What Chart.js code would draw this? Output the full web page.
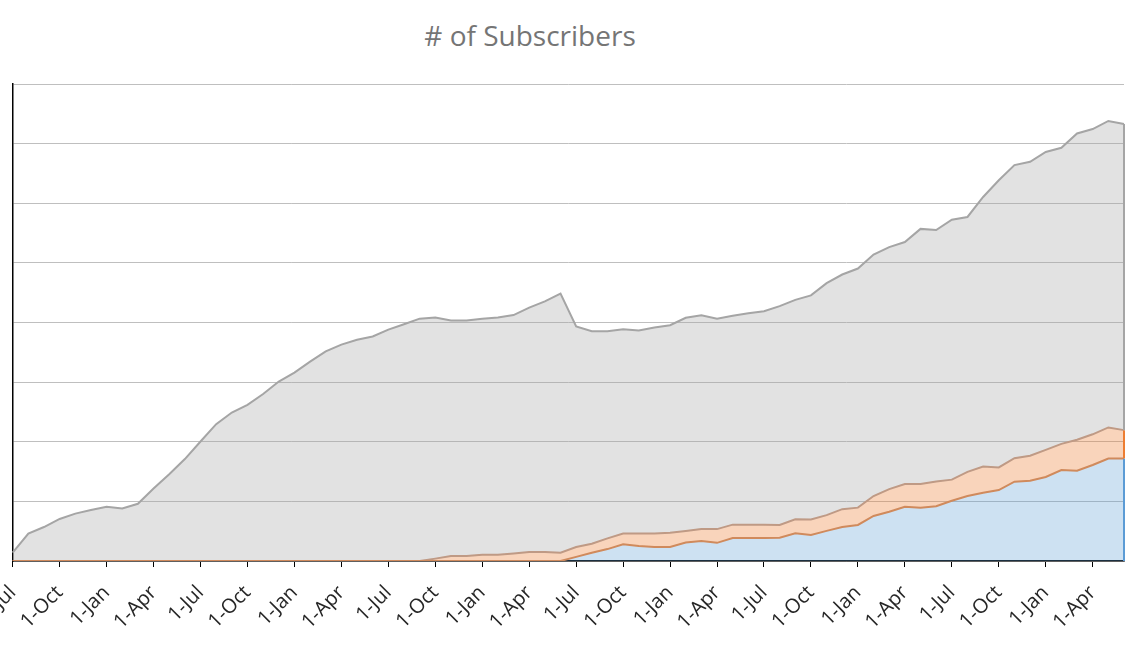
<!DOCTYPE html>
<html>
<head>
<meta charset="utf-8">
<script src="https://cdn.jsdelivr.net/npm/chart.js@4.4.1/dist/chart.umd.min.js"></script>
<style>
  html, body { margin: 0; padding: 0; background: #fff; overflow: hidden; }
  body { width: 1139px; height: 645px; position: relative; }
  #title {
    position: absolute; top: 21px; left: 0; width: 1060px;
    text-align: center; font-family: "Open Sans"; font-size: 28px;
    line-height: 28px; color: #757575;
  }
  /* canvas pushed left so the first rotated label is cut off like in Excel */
  #wrap { position: absolute; left: -30px; top: 0; width: 1169px; height: 648px; }
</style>
</head>
<body>
<div id="title"># of Subscribers</div>
<div id="wrap"><canvas id="subsChart"></canvas></div>
<script>
// monthly categories (6 years, Jul to Jun)
const months = [
  "1-Jul","1-Aug","1-Sep","1-Oct","1-Nov","1-Dec","1-Jan","1-Feb","1-Mar","1-Apr","1-May","1-Jun",
  "1-Jul","1-Aug","1-Sep","1-Oct","1-Nov","1-Dec","1-Jan","1-Feb","1-Mar","1-Apr","1-May","1-Jun",
  "1-Jul","1-Aug","1-Sep","1-Oct","1-Nov","1-Dec","1-Jan","1-Feb","1-Mar","1-Apr","1-May","1-Jun",
  "1-Jul","1-Aug","1-Sep","1-Oct","1-Nov","1-Dec","1-Jan","1-Feb","1-Mar","1-Apr","1-May","1-Jun",
  "1-Jul","1-Aug","1-Sep","1-Oct","1-Nov","1-Dec","1-Jan","1-Feb","1-Mar","1-Apr","1-May","1-Jun",
  "1-Jul","1-Aug","1-Sep","1-Oct","1-Nov","1-Dec","1-Jan","1-Feb","1-Mar","1-Apr","1-May","1-Jun"
];

// bottom series (blue)
const serie1 = [
  0,0,0,0,0,0,0,0,0,0,0,0,
  0,0,0,0,0,0,0,0,0,0,0,0,
  0,0,0,0,0,0,0,0,0,0,0,0,
  70,140,200,280,250,235,235,310,335,305,385,385,
  385,390,465,435,505,570,605,755,825,910,895,920,
  1010,1090,1145,1190,1330,1345,1410,1525,1515,1610,1720,1720
];

// middle series (orange)
const serie2 = [
  0,0,0,0,0,0,0,0,0,0,0,0,
  0,0,0,0,0,0,0,0,0,0,0,0,
  0,0,0,40,85,85,105,105,125,150,150,140,
  165,150,180,180,210,225,240,195,200,230,225,225,
  225,215,235,260,265,300,290,335,380,380,395,415,
  355,405,440,380,395,420,455,440,520,515,520,475
];

// top series (gray)
const serie3 = [
  140,460,570,705,795,855,910,880,960,1215,1455,1710,
  2005,2295,2490,2620,2800,3010,3160,3345,3515,3630,3710,3765,
  3880,3970,4065,4045,3950,3950,3960,3980,4000,4100,4205,4345,
  3700,3565,3475,3425,3405,3455,3480,3575,3585,3530,3505,3545,
  3580,3670,3680,3760,3890,3935,4010,4050,4060,4060,4280,4215,
  4360,4275,4520,4815,4915,4930,4995,4965,5135,5120,5140,5135
];

const edgeColors = ['#5b9bd5', '#ed7d31', '#a5a5a5'];

// Excel dibuja el borde de cada área también en el lado derecho
const rightEdge = {
    id: 'rightEdge',
    afterDatasetsDraw(chart) {
        const c = chart.ctx;
        const bottom = chart.scales.y.getPixelForValue(0);
        let prevY = bottom;
        chart.data.datasets.forEach((ds, i) => {
            const pts = chart.getDatasetMeta(i).data;
            const last = pts[pts.length - 1];
            c.save();
            c.strokeStyle = edgeColors[i];
            c.lineWidth = 2;
            c.beginPath();
            c.moveTo(last.x, prevY);
            c.lineTo(last.x, last.y);
            c.stroke();
            c.restore();
            prevY = last.y;
        });
    }
};

const ctx = document.getElementById('subsChart').getContext('2d');

const chart = new Chart(ctx, {
    type: 'line',
    data: {
        labels: months,
        datasets: [
            {
                label: 'Serie 1',
                data: serie1,
                backgroundColor: 'rgba(91,155,213,0.3)',
                borderColor: '#d08a5c',
                borderWidth: 2,
                fill: 'origin'
            },
            {
                label: 'Serie 2',
                data: serie2,
                backgroundColor: 'rgba(237,125,49,0.33)',
                borderColor: '#bf9a85',
                borderWidth: 2,
                fill: '-1'
            },
            {
                label: 'Serie 3',
                data: serie3,
                backgroundColor: 'rgba(165,165,165,0.32)',
                borderColor: '#a5a5a5',
                borderWidth: 2,
                fill: '-1'
            }
        ]
    },
    options: {
        responsive: true,
        maintainAspectRatio: false,
        animation: false,
        layout: {
            padding: { top: 84, right: 15, bottom: 0, left: 0 }
        },
        elements: {
            point: { radius: 0 },
            line: { tension: 0 }
        },
        scales: {
            x: {
                offset: false,
                grid: {
                    drawOnChartArea: false,
                    drawTicks: true,
                    tickLength: 6,
                    color: '#000'
                },
                border: { display: true, color: '#000', width: 1.5 },
                ticks: {
                    autoSkip: false,
                    maxRotation: 45,
                    minRotation: 45,
                    padding: 14,
                    color: '#262626',
                    font: { family: 'Open Sans', size: 20 },
                    // only the quarter months get a label and a tick
                    callback: (value, index) => index % 3 === 0 ? months[index] : null
                }
            },
            y: {
                stacked: true,
                min: 0,
                max: 8000,
                ticks: { display: false, stepSize: 1000 },
                grid: { color: '#bfbfbf', drawTicks: false },
                border: { display: true, color: '#000', width: 1.5 }
            }
        },
        plugins: {
            legend: { display: false },
            tooltip: { enabled: false },
            title: { display: false }
        }
    },
    plugins: [rightEdge]
});
</script>
</body>
</html>
